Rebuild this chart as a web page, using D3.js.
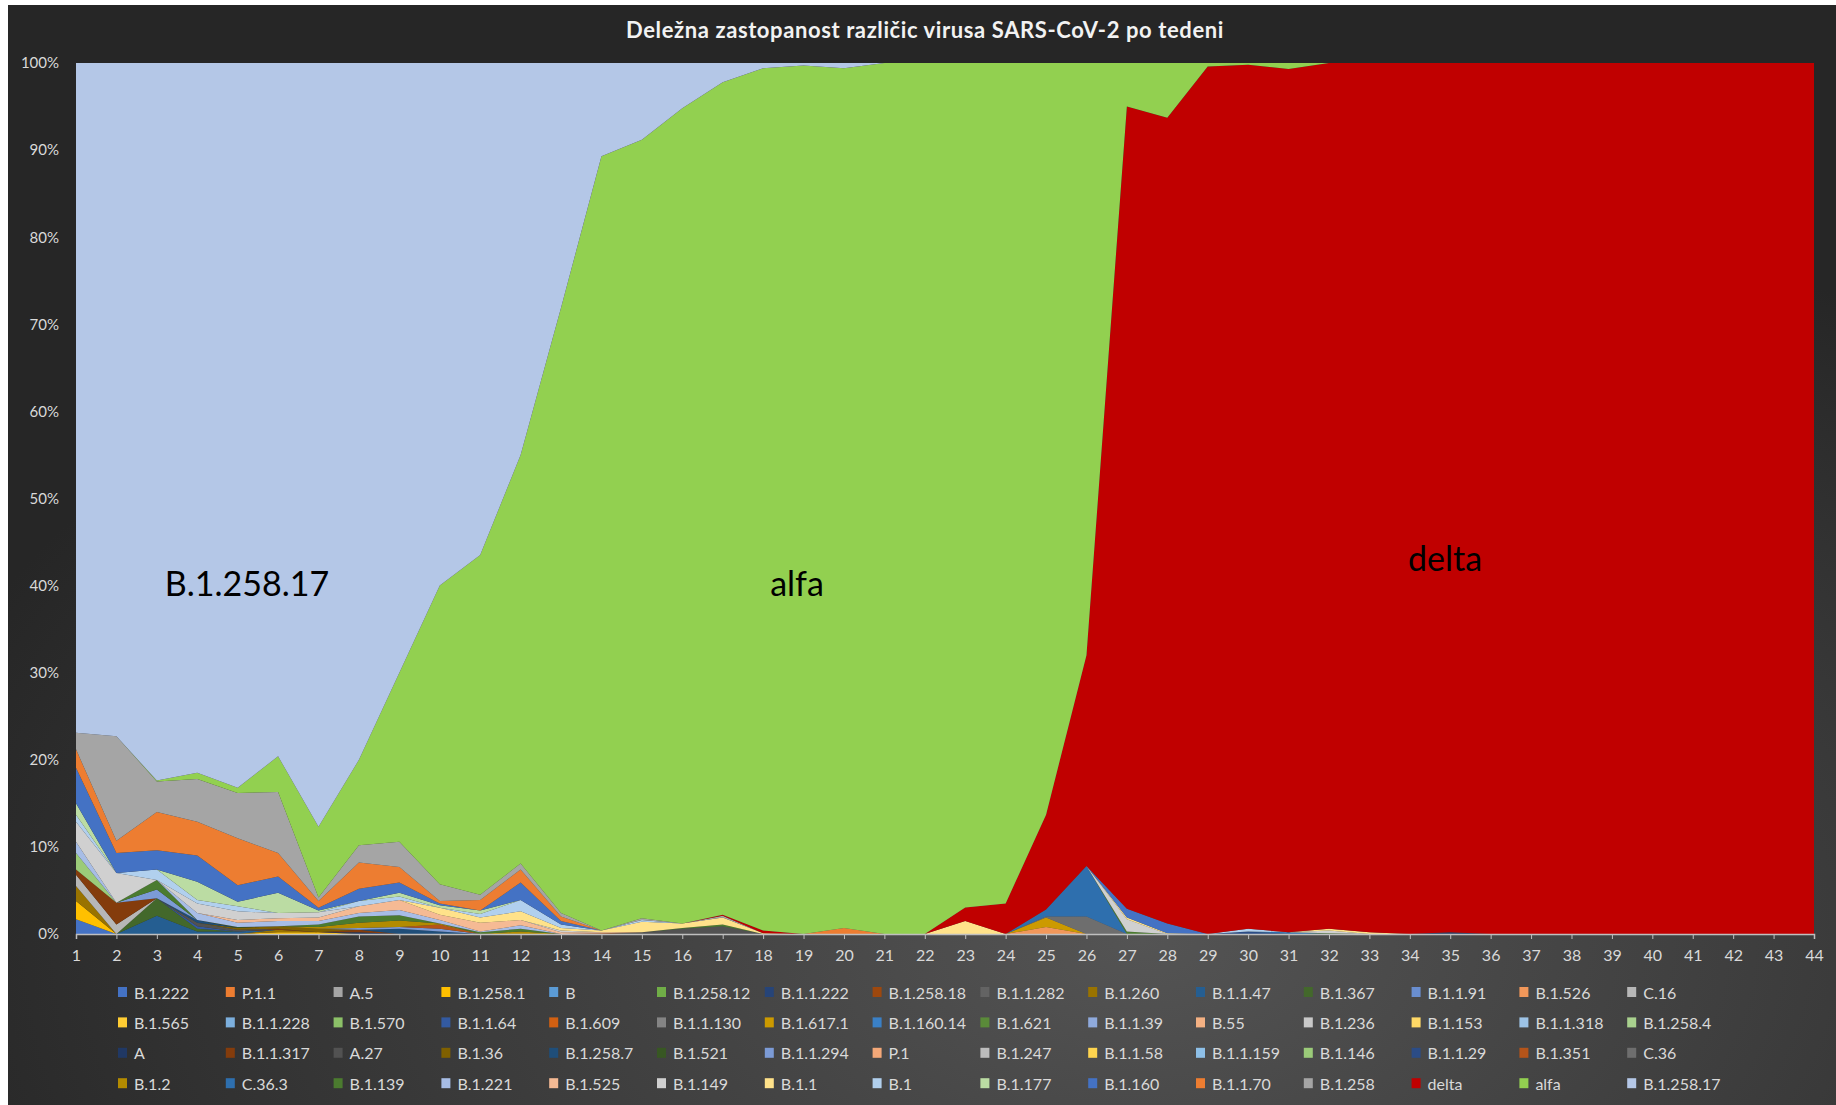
<!DOCTYPE html>
<html>
<head>
<meta charset="utf-8">
<script src="https://cdn.jsdelivr.net/npm/d3@7"></script>
<style>
  body { margin: 0; background: #ffffff; }
  text { font-family: Lato, "Open Sans", sans-serif; }
</style>
</head>
<body>
<script>
// SVG size and the plot rectangle inside the dark chart frame
var svgWidth = 1836;
var svgHeight = 1105;
var plot = { left: 76, right: 1814, top: 63, bottom: 934 };

// weeks on the x axis
var weeks = [1, 2, 3, 4, 5, 6, 7, 8, 9, 10, 11, 12, 13, 14, 15, 16, 17, 18, 19, 20, 21, 22,
  23, 24, 25, 26, 27, 28, 29, 30, 31, 32, 33, 34, 35, 36, 37, 38, 39, 40, 41, 42, 43, 44];
var yTicks = [0, 0.1, 0.2, 0.3, 0.4, 0.5, 0.6, 0.7, 0.8, 0.9, 1];

// series in Excel order (first = bottom of the stack)
var variantNames = [
  "B.1.222", "P.1.1", "A.5", "B.1.258.1", "B", "B.1.258.12", "B.1.1.222", "B.1.258.18", "B.1.1.282", "B.1.260", "B.1.1.47", "B.1.367", "B.1.1.91", "B.1.526", "C.16",
  "B.1.565", "B.1.1.228", "B.1.570", "B.1.1.64", "B.1.609", "B.1.1.130", "B.1.617.1", "B.1.160.14", "B.1.621", "B.1.1.39", "B.55", "B.1.236", "B.1.153", "B.1.1.318", "B.1.258.4",
  "A", "B.1.1.317", "A.27", "B.1.36", "B.1.258.7", "B.1.521", "B.1.1.294", "P.1", "B.1.247", "B.1.1.58", "B.1.1.159", "B.1.146", "B.1.1.29", "B.1.351", "C.36",
  "B.1.2", "C.36.3", "B.1.139", "B.1.221", "B.1.525", "B.1.149", "B.1.1", "B.1", "B.1.177", "B.1.160", "B.1.1.70", "B.1.258", "delta", "alfa", "B.1.258.17"
];

var variantColors = [
  "#4472C4", "#ED7D31", "#A5A5A5", "#FFC000", "#5B9BD5", "#70AD47", "#264478", "#9E480E", "#636363", "#997300", "#255E91", "#43682B", "#698ED0", "#F1975A", "#B7B7B7",
  "#FFCD33", "#7CAFDD", "#8CC168", "#335AA1", "#D26012", "#848484", "#CC9A00", "#3A80C6", "#5A8A39", "#8FAADC", "#F4B183", "#C9C9C9", "#FFD966", "#9DC3E6", "#A9D18E",
  "#203864", "#843C0C", "#525252", "#7F6000", "#1F4E79", "#385723", "#7C9BD6", "#F4A878", "#BDBDBD", "#FFD54F", "#8EC0E8", "#9BCB79", "#2B4C86", "#B4541A", "#6E6E6E",
  "#B38B00", "#2E6FAE", "#4B7B2F", "#A7BDE6", "#F5BA94", "#D0D0D0", "#FFE28A", "#B1D0EE", "#BBDCA3", "#4472C4", "#ED7D31", "#A5A5A5", "#C00000", "#92D050", "#B4C7E7"
];

// small variants: [week, share %], one list per series (first 57 series)
var minorShares = [
  [[1, 1.7]],                                   // B.1.222
  [], [],                                       // P.1.1, A.5
  [[1, 2.1], [6, 0.2], [7, 0.2]],               // B.1.258.1
  [], [], [], [], [],                           // B ... B.1.1.282
  [[1, 1.7], [6, 0.3]],                         // B.1.260
  [[3, 2.1], [4, 0.3], [5, 0.3]],               // B.1.1.47
  [[3, 2.0], [4, 0.3]],                         // B.1.367
  [],                                           // B.1.1.91
  [[25, 0.8]],                                  // B.1.526
  [[1, 1.3], [2, 1.1]],                         // C.16
  [], [], [],                                   // B.1.565, B.1.1.228, B.1.570
  [[4, 0.3]],                                   // B.1.1.64
  [], [],                                       // B.1.609, B.1.1.130
  [[25, 1.1]],                                  // B.1.617.1
  [], [], [], [], [], [], [], [],               // B.1.160.14 ... B.1.258.4
  [[8, 0.2], [35, 0.2]],                        // A
  [[1, 0.6], [2, 2.5], [6, 0.1], [8, 0.3]],     // B.1.1.317
  [[4, 0.4], [5, 0.2], [15, 0.2], [16, 0.6], [17, 0.9]], // A.27
  [[5, 0.2], [6, 0.3], [7, 0.4]],               // B.1.36
  [[4, 0.3], [9, 0.6], [10, 0.3]],              // B.1.258.7
  [[5, 0.1]],                                   // B.1.521
  [[3, 1.0], [8, 0.2], [9, 0.2], [10, 0.3]],    // B.1.1.294
  [], [], [], [],                               // P.1, B.1.247, B.1.1.58, B.1.1.159
  [[1, 1.9]],                                   // B.1.146
  [[30, 0.3]],                                  // B.1.1.29
  [[10, 0.5], [14, 0.1]],                       // B.1.351
  [[25, 0.1], [26, 2.0]],                       // C.36
  [[7, 0.2], [8, 0.6], [9, 0.75], [10, 0.1], [12, 0.3]], // B.1.2
  [[25, 0.8], [26, 5.8], [31, 0.2]],            // C.36.3
  [[3, 1.1], [7, 0.3], [8, 0.7], [9, 0.6], [11, 0.2], [12, 0.3], [16, 0.1], [17, 0.2], [27, 0.3], [32, 0.1]], // B.1.139
  [[1, 1.3], [4, 0.8], [5, 0.5], [6, 0.6], [7, 0.4], [8, 0.4], [9, 0.6], [10, 0.4], [11, 0.1], [12, 0.4]], // B.1.221
  [[5, 0.3], [6, 0.3], [7, 0.4], [8, 0.8], [9, 1.15], [10, 0.6], [11, 1.0], [12, 0.6], [13, 0.2], [14, 0.1]], // B.1.525
  [[1, 2.3], [2, 3.4], [4, 1.1], [5, 1.0], [6, 0.6], [7, 0.6], [13, 0.2], [27, 1.4], [32, 0.3]], // B.1.149
  [[10, 0.8], [11, 0.6], [12, 1.0], [13, 0.3], [14, 0.2], [15, 1.2], [16, 0.5], [17, 0.8], [18, 0.1], [23, 1.5], [27, 0.2], [28, 0.1], [32, 0.2], [33, 0.2]], // B.1.1
  [[1, 0.8], [3, 1.2], [4, 0.4], [5, 0.6], [8, 0.6], [9, 0.4], [11, 0.4], [12, 1.3], [13, 0.4], [15, 0.2], [30, 0.3]], // B.1
  [[1, 1.3], [4, 2.1], [5, 0.5], [6, 2.35], [7, 0.2], [9, 0.45], [10, 0.3], [11, 0.4]], // B.1.177
  [[1, 4.1], [2, 2.3], [3, 2.2], [4, 3.0], [5, 1.9], [6, 1.85], [7, 0.3], [8, 1.4], [9, 1.15], [10, 0.2], [12, 2.0], [13, 0.4], [27, 1.0], [28, 1.1]], // B.1.160
  [[1, 2.1], [2, 1.4], [3, 4.4], [4, 3.9], [5, 5.4], [6, 2.7], [7, 0.8], [8, 3.0], [9, 1.8], [10, 0.3], [11, 1.2], [12, 1.5], [13, 0.5], [20, 0.7]], // B.1.1.70
  [[1, 1.9], [2, 12.0], [3, 3.5], [4, 4.9], [5, 5.2], [6, 7.0], [7, 0.4], [8, 2.0], [9, 2.9], [10, 1.9], [11, 0.6], [12, 0.7], [13, 0.4], [15, 0.2], [17, 0.2]] // B.1.258
];

// the three big variants, share % per week
var deltaShares = [0, 0, 0, 0, 0, 0, 0, 0, 0, 0, 0, 0, 0, 0, 0, 0, 0.1, 0.3, 0, 0, 0, 0,
  1.55, 3.5, 10.9, 24.2, 92.1, 92.5, 99.6, 99.2, 99.1, 99.4, 99.8, 100, 99.8, 100, 100, 100, 100, 100, 100, 100, 100, 100];
var alfaShares = [0, 0, 0.1, 0.7, 0.6, 4.1, 8.1, 9.8, 19.4, 34.3, 39.0, 46.9, 69.5, 88.9, 89.4, 93.6, 95.6, 99.0, 99.7, 98.7, 100, 100,
  96.9, 96.5, 86.3, 68.0, 5.0, 6.3, 0.4, 0.2, 0.7, 0, 0, 0, 0, 0, 0, 0, 0, 0, 0, 0, 0, 0];
var b125817Shares = [76.9, 77.3, 82.3, 81.5, 83.2, 79.6, 87.7, 80.0, 70.0, 60.0, 56.5, 45.0, 28.1, 10.7, 8.8, 5.2, 2.2, 0.6, 0.3, 0.6, 0, 0,
  0, 0, 0, 0, 0, 0, 0, 0, 0, 0, 0, 0, 0, 0, 0, 0, 0, 0, 0, 0, 0, 0];

var chartTitle = "Deležna zastopanost različic virusa SARS-CoV-2 po tedeni";

// build the table for d3.stack
var table = weeks.map(function(w, i) {
  var row = { week: w };
  variantNames.forEach(function(n) { row[n] = 0; });
  minorShares.forEach(function(pairs, j) {
    pairs.forEach(function(p) {
      if (p[0] === w) row[variantNames[j]] = p[1];
    });
  });
  row["delta"] = deltaShares[i];
  row["alfa"] = alfaShares[i];
  row["B.1.258.17"] = b125817Shares[i];
  return row;
});

var svg = d3.select("body")
  .append("svg")
  .attr("width", svgWidth)
  .attr("height", svgHeight);

// dark frame with a soft radial light
var grad = svg.append("defs").append("radialGradient")
  .attr("id", "bg")
  .attr("cx", "62%").attr("cy", "85%").attr("r", "70%");
grad.append("stop").attr("offset", "0%").attr("stop-color", "#545454");
grad.append("stop").attr("offset", "100%").attr("stop-color", "#262626");

svg.append("rect")
  .attr("x", 8).attr("y", 5)
  .attr("width", svgWidth - 8).attr("height", svgHeight - 5)
  .attr("fill", "url(#bg)");

svg.append("text")
  .attr("x", 925).attr("y", 29)
  .attr("text-anchor", "middle")
  .attr("dominant-baseline", "central")
  .attr("fill", "#f2f2f2")
  .attr("font-size", 22)
  .attr("letter-spacing", 0.6)
  .attr("font-weight", "bold")
  .text(chartTitle);

var xScale = d3.scaleLinear().domain([1, 44]).range([plot.left, plot.right]);
var yScale = d3.scaleLinear().domain([0, 1]).range([plot.bottom, plot.top]);

var layers = d3.stack()
  .keys(variantNames)
  .offset(d3.stackOffsetExpand)(table);

var area = d3.area()
  .x(d => xScale(d.data.week))
  .y0(d => yScale(d[0]))
  .y1(d => yScale(d[1]));

svg.append("g")
  .selectAll("path")
  .data(layers)
  .enter()
  .append("path")
  .attr("d", area)
  .attr("fill", (d, i) => variantColors[i]);

// axes
var bottomAxis = d3.axisBottom(xScale).tickValues(weeks).tickSize(5).tickPadding(11).tickFormat(d3.format("d"));
var leftAxis = d3.axisLeft(yScale).tickValues(yTicks).tickSize(0).tickPadding(17).tickFormat(d3.format(".0%"));

var gx = svg.append("g")
  .attr("transform", `translate(0, ${plot.bottom})`)
  .call(bottomAxis);
gx.select(".domain").attr("stroke", "#bfbfbf").attr("stroke-width", 1.5);
gx.selectAll(".tick line").attr("stroke", "#bfbfbf");
gx.selectAll("text").attr("fill", "#d9d9d9").attr("font-size", 16).attr("font-family", "Lato, sans-serif");

var gy = svg.append("g")
  .attr("transform", `translate(${plot.left}, 0)`)
  .call(leftAxis);
gy.select(".domain").remove();
gy.selectAll("text").attr("fill", "#d9d9d9").attr("font-size", 15).attr("font-family", "Lato, sans-serif");

// big labels inside the areas
var bigLabels = [
  { text: "B.1.258.17", x: 247, y: 582 },
  { text: "alfa", x: 797, y: 582 },
  { text: "delta", x: 1445, y: 557 }
];
svg.append("g")
  .selectAll("text")
  .data(bigLabels)
  .enter()
  .append("text")
  .attr("x", d => d.x).attr("y", d => d.y)
  .attr("text-anchor", "middle")
  .attr("dominant-baseline", "central")
  .attr("font-size", 34)
  .attr("fill", "#000")
  .text(d => d.text);

// legend: 4 rows x 15 columns
var legend = svg.append("g");
variantNames.forEach(function(n, i) {
  var col = i % 15, row = Math.floor(i / 15);
  var lx = 118 + col * 107.8;
  var ly = 992 + row * 30.4;
  legend.append("rect")
    .attr("x", lx).attr("y", ly - 5)
    .attr("width", 9).attr("height", 10)
    .attr("fill", variantColors[i]);
  legend.append("text")
    .attr("x", lx + 16).attr("y", ly)
    .attr("dominant-baseline", "central")
    .attr("fill", "#d9d9d9")
    .attr("font-size", 16)
    .text(n);
});
</script>
</body>
</html>
